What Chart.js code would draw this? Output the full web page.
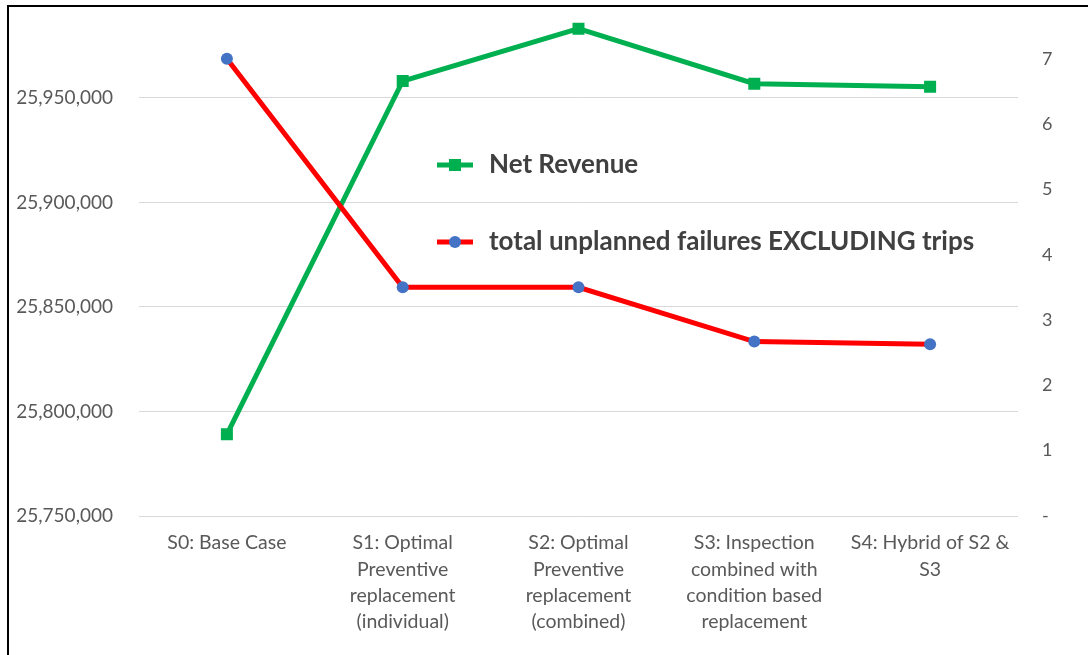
<!DOCTYPE html>
<html>
<head>
<meta charset="utf-8">
<script src="https://cdn.jsdelivr.net/npm/chart.js@4"></script>
<style>
  body { margin: 0; background: #fff; }
  #wrap { position: relative; width: 1088px; height: 655px; overflow: hidden; background: #fff; }
  #box { position: absolute; left: 0; top: -44px; width: 1088px; height: 699px; }
  #frame { position: absolute; left: 7px; top: 5px; right: -10px; bottom: -10px;
           border-left: 2px solid #000; border-top: 2px solid #000; pointer-events: none; }
</style>
</head>
<body>
<div id="wrap">
  <div id="box"><canvas id="chart"></canvas></div>
  <div id="frame"></div>
</div>
<script>
const scenarios = [
  ["S0: Base Case"],
  ["S1: Optimal", "Preventive", "replacement", "(individual)"],
  ["S2: Optimal", "Preventive", "replacement", "(combined)"],
  ["S3: Inspection", "combined with", "condition based", "replacement"],
  ["S4: Hybrid of S2 &", "S3"]
];

const netRevenue = [25789100, 25958100, 25983100, 25956800, 25955300];
const unplannedFailures = [7.0, 3.5, 3.5, 2.67, 2.63];

const revenueTicks = [25750000, 25800000, 25850000, 25900000, 25950000];
const failureTicks = [0, 1, 2, 3, 4, 5, 6, 7];

const seriesNames = ["Net Revenue", "total unplanned failures EXCLUDING trips"];

const txt = "#595959";

// legend sits inside the plot, like in Excel
const legendInPlot = {
  id: "legendInPlot",
  afterDatasetsDraw(chart) {
    const ctx = chart.ctx;
    const rows = [[437, 209], [437, 286]];
    chart.data.datasets.forEach((ds, i) => {
      const [x, y] = rows[i];
      ctx.save();
      ctx.strokeStyle = ds.borderColor;
      ctx.lineWidth = 5;
      ctx.beginPath();
      ctx.moveTo(x, y);
      ctx.lineTo(x + 36, y);
      ctx.stroke();
      ctx.fillStyle = ds.pointBackgroundColor;
      ctx.beginPath();
      if (ds.pointStyle === "rect") ctx.rect(x + 12, y - 6, 12, 12);
      else ctx.arc(x + 18, y, 6, 0, Math.PI * 2);
      ctx.fill();
      ctx.fillStyle = "#404040";
      ctx.font = "bold 26px Lato";
      ctx.textBaseline = "middle";
      ctx.fillText(ds.label, x + 52, y);
      ctx.restore();
    });
  }
};

new Chart(document.getElementById("chart"), {
  type: "line",
  data: {
    labels: scenarios,
    datasets: [
      {
        label: seriesNames[0],
        data: netRevenue,
        borderColor: "#00B050",
        backgroundColor: "#00B050",
        pointBackgroundColor: "#00B050",
        pointBorderWidth: 0,
        pointStyle: "rect",
        pointRadius: 8.5,
        borderWidth: 5,
        yAxisID: "y",
        order: 2
      },
      {
        label: seriesNames[1],
        data: unplannedFailures,
        borderColor: "#FF0000",
        backgroundColor: "#4472C4",
        pointBackgroundColor: "#4472C4",
        pointBorderWidth: 0,
        pointStyle: "circle",
        pointRadius: 6,
        borderWidth: 5,
        yAxisID: "y1",
        order: 1
      }
    ]
  },
  options: {
    responsive: true,
    maintainAspectRatio: false,
    animation: false,
    layout: { padding: { top: 27, bottom: 0, left: 0, right: 0 } },
    plugins: { legend: { display: false }, tooltip: { enabled: false } },
    scales: {
      x: {
        offset: true,
        grid: { display: false, drawTicks: false },
        border: { display: false },
        ticks: { color: txt, font: { family: "Lato", size: 19.5, lineHeight: 1.35 }, padding: 14, maxRotation: 0, autoSkip: false },
        afterFit: s => { s.height = 139; }
      },
      y: {
        position: "left",
        min: 25750000,
        max: 26000000,
        afterBuildTicks: s => { s.ticks = revenueTicks.concat([26000000]).map(v => ({ value: v })); },
        grid: { color: "#d9d9d9", lineWidth: 1, drawTicks: false },
        border: { display: false },
        ticks: {
          color: txt, font: { family: "Lato", size: 19 }, padding: 26,
          callback: v => revenueTicks.includes(v) ? v.toLocaleString("en-US") : ""
        },
        afterFit: s => { s.width = 139; }
      },
      y1: {
        position: "right",
        min: 0,
        max: 8,
        afterBuildTicks: s => { s.ticks = failureTicks.concat([8]).map(v => ({ value: v })); },
        grid: { display: false, drawTicks: false },
        border: { display: false },
        ticks: {
          color: txt, font: { family: "Lato", size: 18 }, padding: 24,
          callback: v => failureTicks.includes(v) ? (v === 0 ? "-" : String(v)) : ""
        },
        afterFit: s => { s.width = 70; }
      }
    }
  },
  plugins: [legendInPlot]
});
</script>
</body>
</html>
